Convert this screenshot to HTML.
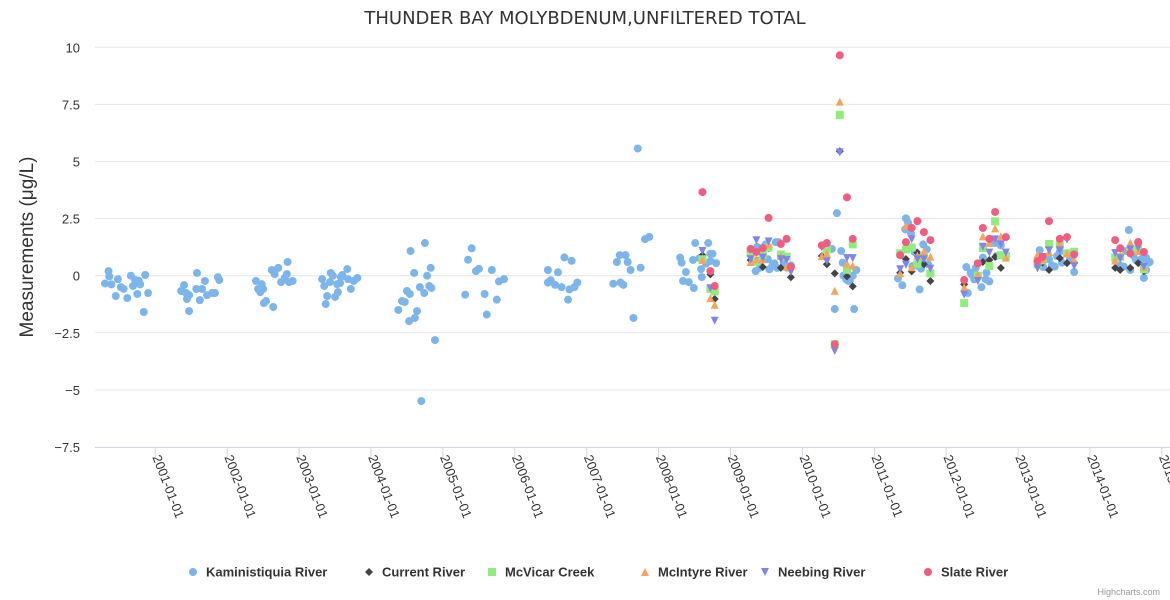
<!DOCTYPE html>
<html><head><meta charset="utf-8">
<style>
html,body{margin:0;padding:0;background:#fff;}
svg{display:block;font-family:"Liberation Sans","DejaVu Sans",sans-serif;}
</style></head>
<body>
<svg id="chart" width="1170" height="600" viewBox="0 0 1170 600">
  <text x="585" y="24" text-anchor="middle" font-size="18" fill="#333" style="font-family:'DejaVu Sans',sans-serif">THUNDER BAY MOLYBDENUM,UNFILTERED TOTAL</text>
  <text transform="translate(33,247) rotate(-90)" text-anchor="middle" font-size="19" fill="#333">Measurements (μg/L)</text>
  <g id="grid"></g>
  <g id="yticks"></g>
  <g id="xaxis"></g>
  <g id="marks"></g>
  <g id="legend"></g>
  <text x="1160" y="595" text-anchor="end" font-size="9" fill="#999">Highcharts.com</text>
</svg>
<script>
const yTicks = [10, 7.5, 5, 2.5, 0, -2.5, -5, -7.5];
const yTickLabels = ["10", "7.5", "5", "2.5", "0", "−2.5", "−5", "−7.5"];
const xTickYears = [2001,2002,2003,2004,2005,2006,2007,2008,2009,2010,2011,2012,2013,2014,2015];
const xTickLabels = ["2001-01-01","2002-01-01","2003-01-01","2004-01-01","2005-01-01","2006-01-01","2007-01-01","2008-01-01","2009-01-01","2010-01-01","2011-01-01","2012-01-01","2013-01-01","2014-01-01","2015-01-01"];
const seriesNames = ["Kaministiquia River","Current River","McVicar Creek","McIntyre River","Neebing River","Slate River"];

const kaministiquia = [
[2000.30,-0.34],[2000.35,0.20],[2000.36,-0.03],[2000.39,-0.38],[2000.45,-0.89],[2000.48,-0.15],[2000.52,-0.5],[2000.56,-0.58],[2000.61,-0.98],[2000.66,0],[2000.69,-0.45],[2000.72,-0.19],[2000.75,-0.8],[2000.77,-0.22],[2000.79,-0.38],[2000.84,-1.59],[2000.86,0.03],[2000.90,-0.76],
[2001.36,-0.67],[2001.40,-0.41],[2001.43,-0.76],[2001.44,-1.02],[2001.47,-0.85],[2001.47,-1.55],[2001.57,-0.58],[2001.58,0.12],[2001.62,-1.07],[2001.65,-0.58],[2001.69,-0.23],[2001.72,-0.85],[2001.79,-0.76],[2001.83,-0.76],[2001.87,-0.06],[2001.89,-0.19],
[2002.40,-0.23],[2002.43,-0.58],[2002.46,-0.72],[2002.48,-0.37],[2002.50,-0.58],[2002.51,-1.2],[2002.54,-1.11],[2002.62,0.25],[2002.64,-1.37],[2002.66,0.07],[2002.71,0.34],[2002.75,-0.28],[2002.80,-0.1],[2002.83,0.07],[2002.84,0.6],[2002.86,-0.28],[2002.91,-0.23],
[2003.32,-0.15],[2003.35,-0.45],[2003.37,-1.24],[2003.39,-0.89],[2003.43,-0.28],[2003.44,0.12],[2003.47,0],[2003.50,-0.93],[2003.53,-0.37],[2003.54,-0.72],[2003.57,-0.32],[2003.58,-0.06],[2003.60,0.03],[2003.67,0.29],[2003.68,-0.15],[2003.72,-0.58],[2003.76,-0.23],[2003.81,-0.1],
[2004.38,-1.5],[2004.43,-1.11],[2004.47,-1.15],[2004.50,-0.67],[2004.53,-1.99],[2004.54,-0.8],[2004.55,1.08],[2004.60,0.12],[2004.61,-1.85],[2004.64,-1.55],[2004.68,-0.5],[2004.70,-5.49],[2004.74,-0.76],[2004.75,1.43],[2004.78,0],[2004.81,-0.45],[2004.83,0.34],[2004.84,-0.54],[2004.89,-2.82],
[2005.31,-0.83],[2005.35,0.7],[2005.40,1.2],[2005.46,0.2],[2005.50,0.3],[2005.58,-0.8],[2005.61,-1.7],[2005.68,0.25],[2005.75,-1.05],[2005.78,-0.25],[2005.85,-0.15],
[2006.46,0.25],[2006.46,-0.3],[2006.50,-0.2],[2006.56,-0.4],[2006.60,0.15],[2006.65,-0.5],[2006.69,0.8],[2006.74,-1.05],[2006.76,-0.6],[2006.79,0.65],[2006.83,-0.5],[2006.87,-0.3],
[2007.37,-0.35],[2007.42,0.6],[2007.46,0.9],[2007.47,-0.3],[2007.51,-0.4],[2007.54,0.9],[2007.57,0.6],[2007.61,0.25],[2007.65,-1.85],[2007.71,5.57],[2007.75,0.35],[2007.81,1.6],[2007.87,1.7],
[2008.30,0.79],[2008.32,0.57],[2008.34,-0.23],[2008.38,0.16],[2008.42,-0.28],[2008.48,0.69],[2008.49,-0.54],[2008.51,1.43],[2008.57,0.77],[2008.59,0.29],[2008.60,-0.06],[2008.66,0.53],[2008.69,1.43],[2008.72,0.96],[2008.72,0.64],[2008.75,0.96],[2008.80,0.55],
[2009.35,0.2],[2009.37,1.26],[2009.41,0.35],[2009.42,0.69],[2009.46,1.23],[2009.49,1.37],[2009.52,0.72],[2009.54,0.28],[2009.58,0.42],[2009.61,0.54],[2009.63,1.47],[2009.65,0.34],[2009.67,1.47],[2009.74,0.57],[2009.78,0.35],[2009.84,0.45],
[2010.34,1.3],[2010.41,1.17],[2010.45,-1.46],[2010.48,2.74],[2010.54,1.08],[2010.56,0.57],[2010.57,0],[2010.61,-0.16],[2010.64,-0.23],[2010.66,-0.2],[2010.70,0],[2010.72,-1.46],[2010.75,0.25],
[2011.33,-0.12],[2011.39,-0.42],[2011.43,2.03],[2011.44,2.51],[2011.47,2.32],[2011.51,1.85],[2011.53,0.42],[2011.56,1.04],[2011.61,0.42],[2011.63,-0.6],[2011.65,0.31],[2011.67,0.57],[2011.68,1.37],[2011.73,1.15],[2011.75,0.5],
[2012.28,0.38],[2012.30,-0.76],[2012.34,0.13],[2012.35,0.07],[2012.37,0],[2012.39,-0.16],[2012.41,0.34],[2012.49,-0.5],[2012.51,0.79],[2012.55,-0.16],[2012.56,0.13],[2012.60,-0.25],[2012.68,1.43],[2012.70,0.86],[2012.76,1.33],
[2013.30,1.12],[2013.35,0.38],[2013.36,0.82],[2013.43,0.72],[2013.47,0.45],[2013.51,0.4],[2013.54,0.86],[2013.58,1.05],[2013.61,0.57],[2013.72,0.72],[2013.78,0.16],
[2014.42,0.45],[2014.47,0.4],[2014.50,1.08],[2014.54,2.0],[2014.56,0.25],[2014.60,0.89],[2014.64,0.69],[2014.69,0.57],[2014.72,0.74],[2014.75,-0.1],[2014.78,0.25],[2014.78,0.79],[2014.81,0.57],[2014.83,0.6]
];
const currentRiver = [
[2008.61,0.9],[2008.72,0.06],[2008.78,-1.02],
[2009.28,0.69],[2009.36,0.69],[2009.45,0.38],[2009.53,1.2],[2009.70,0.34],[2009.84,-0.07],
[2010.27,0.86],[2010.34,0.5],[2010.45,0.1],[2010.52,5.45],[2010.62,-0.03],[2010.70,-0.47],
[2011.36,0.13],[2011.44,0.73],[2011.52,0.19],[2011.60,1.01],[2011.69,0.5],[2011.78,-0.23],
[2012.25,-0.38],[2012.44,0],[2012.51,0.6],[2012.60,0.69],[2012.68,0.82],[2012.76,0.34],[2012.83,0.93],
[2013.27,0.51],[2013.34,0.57],[2013.43,0.25],[2013.58,0.77],[2013.68,0.55],[2013.78,0.57],
[2014.35,0.34],[2014.42,0.25],[2014.56,0.34],[2014.67,0.55],[2014.75,0.19]
];
const mcvicarCreek = [
[2008.61,0.72],[2008.72,-0.58],[2008.78,-0.69],
[2009.28,0.98],[2009.36,0.61],[2009.45,0.93],[2009.53,1.23],[2009.70,0.93],[2009.78,0.83],
[2010.34,1.15],[2010.45,-3.0],[2010.52,7.04],[2010.62,0.26],[2010.70,1.37],
[2011.36,0.98],[2011.44,1.15],[2011.52,1.24],[2011.60,0.51],[2011.69,0.86],[2011.78,0.1],
[2012.25,-1.2],[2012.44,0],[2012.51,1.21],[2012.60,0.42],[2012.68,2.38],[2012.76,0.9],[2012.83,0.86],
[2013.27,0.5],[2013.34,0.67],[2013.43,1.39],[2013.58,1.34],[2013.68,0.98],[2013.78,1.05],
[2014.35,0.8],[2014.42,0.82],[2014.56,1.08],[2014.67,1.15],[2014.75,0.28]
];
const mcintyreRiver = [
[2008.61,0.69],[2008.72,-0.98],[2008.78,-1.27],
[2009.28,0.6],[2009.36,0.72],[2009.45,0.72],[2009.53,1.37],[2009.70,0.86],[2009.78,0.39],
[2010.27,0.86],[2010.34,0.98],[2010.45,-0.66],[2010.52,7.62],[2010.62,0.53],[2010.70,0.44],
[2011.36,0.1],[2011.44,2.2],[2011.52,0.37],[2011.60,0.88],[2011.69,1.07],[2011.78,0.83],
[2012.25,-0.5],[2012.44,0.06],[2012.51,1.72],[2012.60,1.43],[2012.68,2.07],[2012.76,1.72],[2012.83,0.79],
[2013.27,0.93],[2013.34,0.72],[2013.43,1.04],[2013.58,1.42],[2013.68,0.98],[2013.78,0.69],
[2014.35,0.67],[2014.42,0.9],[2014.56,1.45],[2014.67,1.08],[2014.75,0.39]
];
const neebingRiver = [
[2008.61,1.08],[2008.72,-0.55],[2008.78,-1.97],
[2009.28,0.72],[2009.36,1.55],[2009.45,0.79],[2009.53,1.5],[2009.70,0.72],[2009.78,0.69],[2009.84,0.16],
[2010.27,1.24],[2010.34,0.63],[2010.45,-3.29],[2010.52,5.4],[2010.62,0.77],[2010.70,0.77],
[2011.36,0.28],[2011.44,0.48],[2011.52,1.59],[2011.60,0.72],[2011.69,0.72],[2011.78,0.31],
[2012.25,-0.83],[2012.44,-0.23],[2012.51,1.27],[2012.60,1.01],[2012.68,1.59],[2012.76,1.37],[2012.83,1.01],
[2013.27,0.32],[2013.34,0.82],[2013.43,1.11],[2013.58,1.11],[2013.68,1.58],[2013.78,0.42],
[2014.35,0.99],[2014.42,0.76],[2014.56,1.15],[2014.67,1.23],[2014.75,0.39]
];
const slateRiver = [
[2008.61,3.66],[2008.72,0.2],[2008.78,-0.45],
[2009.28,1.17],[2009.36,1.04],[2009.45,1.21],[2009.53,2.53],[2009.70,1.39],[2009.78,1.61],[2009.84,0.39],
[2010.27,1.33],[2010.34,1.43],[2010.45,-3.0],[2010.52,9.65],[2010.62,3.43],[2010.70,1.61],
[2011.36,0.9],[2011.44,1.47],[2011.52,2.09],[2011.60,2.39],[2011.69,1.91],[2011.78,1.56],
[2012.25,-0.19],[2012.44,0.54],[2012.51,2.09],[2012.60,1.61],[2012.68,2.79],[2012.83,1.69],
[2013.27,0.64],[2013.34,0.82],[2013.43,2.39],[2013.58,1.61],[2013.68,1.69],[2013.78,0.93],
[2014.35,1.56],[2014.42,1.2],[2014.56,0.98],[2014.67,1.47],[2014.75,1.04]
];

const NS = "http://www.w3.org/2000/svg";
const PLOT_L = 95, PLOT_R = 1160, PLOT_T = 47.3, PLOT_B = 447;
const Y_MIN = -7.5, Y_MAX = 10;
function yScale(v){ return PLOT_B - (v - Y_MIN) / (Y_MAX - Y_MIN) * (PLOT_B - PLOT_T); }
function xScale(yr){ return 155.3 + (yr - 2001) * 71.9; }
function mk(tag, attrs, parent){ const e = document.createElementNS(NS, tag); for (const k in attrs) e.setAttribute(k, attrs[k]); parent.appendChild(e); return e; }

const grid = document.getElementById('grid');
const yt = document.getElementById('yticks');
yTicks.forEach((v, i) => {
  if (v !== Y_MIN) {
    const l = mk('line', {x1: PLOT_L, x2: 1170, y1: yScale(v), y2: yScale(v), stroke: '#e6e6e6', 'stroke-width': 1}, grid);
    
    
  }
  const t = mk('text', {x: 80, y: yScale(v) + 5, 'text-anchor': 'end', 'font-size': 13, fill: '#333'}, yt);
  t.textContent = yTickLabels[i];
  
  
});

const xa = document.getElementById('xaxis');
const axisLine = mk('line', {x1: PLOT_L, x2: 1170, y1: PLOT_B + 0.5, y2: PLOT_B + 0.5, stroke: '#ccd6eb', 'stroke-width': 1}, xa);


xTickYears.forEach((yr, i) => {
  const x = xScale(yr);
  const tk = mk('line', {x1: x, x2: x, y1: PLOT_B, y2: PLOT_B + 10, stroke: '#ccd6eb', 'stroke-width': 1}, xa);
  
  
  const t = mk('text', {x: 0, y: 0, 'font-size': 13, fill: '#333', transform: 'translate(' + (x - 3) + ',' + (PLOT_B + 10) + ') rotate(69)'}, xa);
  t.textContent = xTickLabels[i];
  
  
});

const colors = ['#7cb5ec', '#434348', '#90ed7d', '#f7a35c', '#8085e9', '#f15c80'];
const shapes = ['circle', 'diamond', 'square', 'triangle', 'triangle-down', 'circle'];
const allSeries = [kaministiquia, currentRiver, mcvicarCreek, mcintyreRiver, neebingRiver, slateRiver];

function marker(shape, cx, cy, color, parent){
  const r = 4;
  if (shape === 'circle') return mk('circle', {cx: cx, cy: cy, r: r, fill: color}, parent);
  if (shape === 'square') return mk('rect', {x: cx - r, y: cy - r, width: 2*r, height: 2*r, fill: color}, parent);
  let pts;
  if (shape === 'diamond') pts = [[cx, cy - r], [cx + r, cy], [cx, cy + r], [cx - r, cy]];
  else if (shape === 'triangle') pts = [[cx, cy - r], [cx + r, cy + r], [cx - r, cy + r]];
  else pts = [[cx - r, cy - r], [cx + r, cy - r], [cx, cy + r]];
  return mk('polygon', {points: pts.map(p => p.join(',')).join(' '), fill: color}, parent);
}

const marks = document.getElementById('marks');
allSeries.forEach((data, si) => {
  const g = mk('g', {}, marks);
  
  
  data.forEach(d => {
    const m = marker(shapes[si], xScale(d[0]), yScale(d[1]), colors[si], g);
    
    
  });
});

const legendX = [193, 369, 492, 645, 765, 928];
const lg = document.getElementById('legend');
seriesNames.forEach((n, i) => {
  const g = mk('g', {}, lg);
  
  
  const s = marker(shapes[i], legendX[i], 572, colors[i], g);
  
  
  const t = mk('text', {x: legendX[i] + 13, y: 576.5, 'font-size': 13, 'font-weight': 'bold', fill: '#333'}, g);
  t.textContent = n;
  
  
});
</script>
</body></html>
